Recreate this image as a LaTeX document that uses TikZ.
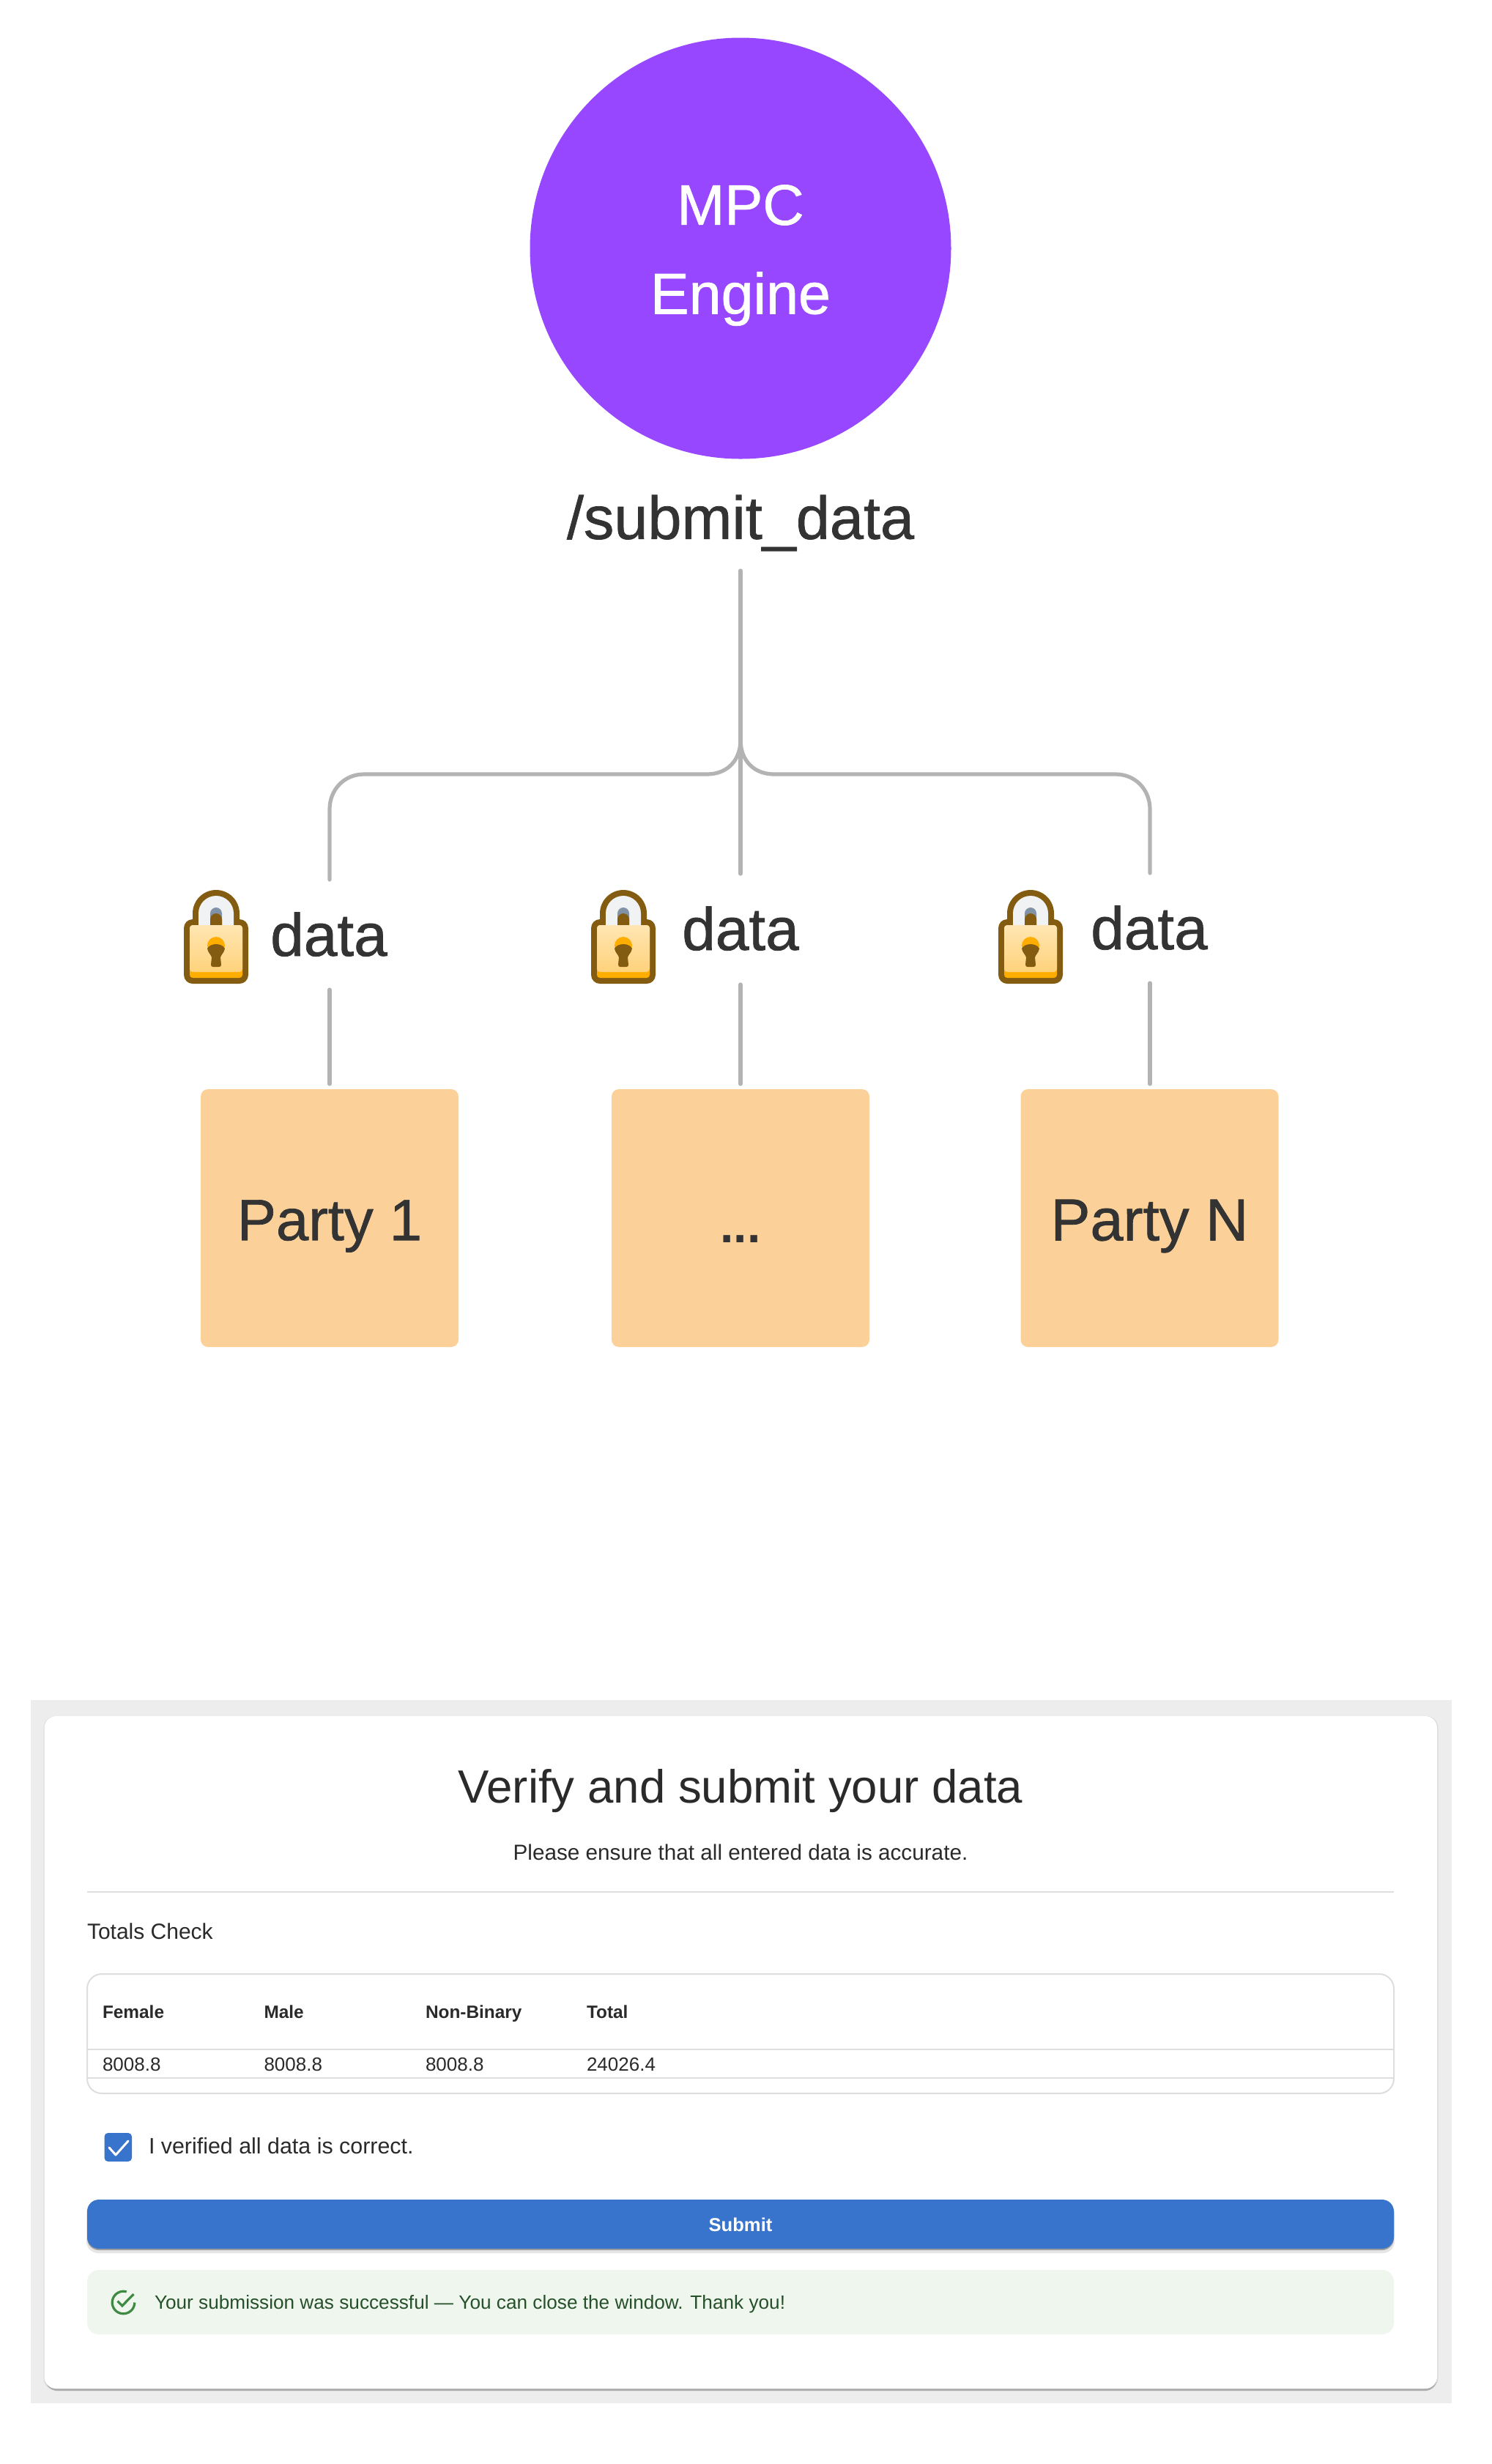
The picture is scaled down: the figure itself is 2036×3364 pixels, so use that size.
\documentclass[tikz,border=0pt]{standalone}
\usepackage{fontspec}
\setmainfont{Liberation Sans}
\newfontfamily\interf[FakeBold=0.9]{Liberation Sans}
\usetikzlibrary{calc}
\definecolor{purp}{HTML}{9747FF}
\definecolor{party}{HTML}{FCD199}
\definecolor{ink}{HTML}{333333}
\definecolor{link}{HTML}{B3B3B3}
\definecolor{lockb}{HTML}{835C12}
\definecolor{locko}{HTML}{FFAE00}
\definecolor{locktop}{HTML}{FFE6B2}
\definecolor{lockbot}{HTML}{FFD27C}
\definecolor{lockw}{HTML}{F0F2F4}
\definecolor{lockg}{HTML}{8093A6}
\definecolor{uiblue}{HTML}{3874CB}
\definecolor{uiink}{HTML}{2A2A2A}
\definecolor{okbg}{HTML}{EEF6EE}
\definecolor{oktx}{HTML}{26502A}
\definecolor{okic}{HTML}{3E8A42}
\newcommand{\fs}[1]{\fontsize{#1}{#1}\selectfont}
\tikzset{
  x=0.5pt,y=-0.5pt,
  txt/.style={inner sep=0pt,outer sep=0pt,text=ink},
  ui/.style={inner sep=0pt,outer sep=0pt,text=uiink,anchor=base west},
  uic/.style={inner sep=0pt,outer sep=0pt,text=uiink,anchor=base},
  partybox/.style={fill=party,draw=none,rounded corners=5pt,minimum width=176pt,minimum height=176pt,inner sep=0pt},
  partytext/.style={txt,font=\interf\fs{39.8}},
  datatext/.style={txt,font=\interf\fs{41},anchor=base},
  wire/.style={draw=link,line width=2.6pt,line cap=round},
  rule/.style={draw=black!13,line width=1pt},
  lockpic/.pic={
    \fill[lockb,rounded corners=6pt] (-44,40) rectangle (44,128);
    \fill[lockb] (-32,66) -- (-32,32) arc[start angle=180,end angle=0,x radius=32,y radius=-32] -- (32,66) -- cycle;
    \fill[lockw] (-24,50) -- (-24,32) arc[start angle=180,end angle=0,x radius=24,y radius=-24] -- (24,50) -- cycle;
    \fill[lockg] (-8,50) -- (-8,32) arc[start angle=180,end angle=0,x radius=8,y radius=-8] -- (8,50) -- cycle;
    \fill[lockb] (-8,50) -- (-8,40) arc[start angle=180,end angle=0,x radius=8,y radius=-8] -- (8,50) -- cycle;
    \fill[locko,rounded corners=2pt] (-36,48) rectangle (36,120);
    \shade[top color=locktop,bottom color=lockbot,rounded corners=2pt] (-36,48) rectangle (36,112);
    \fill[locko] (0,76) circle[radius=12];
    \fill[lockb] (-12,80) .. controls (-8,72) and (8,72) .. (12,80) .. controls (11,86) and (7,88) .. (6,92) -- (7,102) .. controls (7,104) and (6,105) .. (4,105) -- (-4,105) .. controls (-6,105) and (-7,104) .. (-7,102) -- (-6,92) .. controls (-7,88) and (-11,86) .. (-12,80) -- cycle;
  }
}
\begin{document}
\begin{tikzpicture}
\useasboundingbox (0,0) rectangle (2036,3364);
% top diagram
\node[circle,fill=purp,minimum size=287.5pt,inner sep=0pt] (engine) at (1011,339) {};
\node[txt,text=white,font=\interf\fs{39}] (mpc) at (1011,280) {MPC};
\node[txt,text=white,font=\interf\fs{39.5}] (eng) at (1011,408) {Engine};
\node[txt,font=\interf\fs{41.4}] (submit) at (1011,714) {/submit\_data};

\coordinate (top) at (1011,779);
\coordinate (fork) at (1011,1010);
\coordinate (leftend) at (450,1201);
\coordinate (midend) at (1011,1193);
\coordinate (rightend) at (1570,1192);
\coordinate (leftlow) at (450,1351);
\coordinate (midlow) at (1011,1344);
\coordinate (rightlow) at (1570,1342);
\node[partybox] (p1) at (450,1663) {};
\node[partybox] (pm) at (1011,1663) {};
\node[partybox] (pn) at (1569.5,1663) {};
\node[partytext] (p1t) at (450,1674) {Party 1};
\node[partytext,font=\interf\fs{40.5}] (pnt) at (1569.5,1674) {Party N};
\node[txt,font=\bfseries\fs{33},anchor=base] (dots) at (1011,1696) {...};

\draw[wire] (top) -- (midend);
\draw[wire] (fork) .. controls (1011,1038) and (993,1057) .. (965,1057) -- (497,1057) .. controls (470,1057) and (450,1078) .. (450,1105) -- (leftend);
\draw[wire] (fork) .. controls (1011,1038) and (1029,1057) .. (1057,1057) -- (1523,1057) .. controls (1550,1057) and (1570,1078) .. (1570,1105) -- (rightend);
\draw[wire] (leftlow) -- (450,1480);
\draw[wire] (midlow) -- (1011,1480);
\draw[wire] (rightlow) -- (1570,1480);

\pic at (295,1215) {lockpic};
\pic at (851,1215) {lockpic};
\pic at (1407,1215) {lockpic};
\node[datatext] (d1) at (449,1305) {data};
\node[datatext] (d2) at (1011,1297) {data};
\node[datatext] (d3) at (1569,1296) {data};

% bottom panel
\fill[black!7] (42,2321) rectangle (1982,3281);
\fill[black!14,rounded corners=8pt] (59.5,2343) rectangle (1963.5,3263);
\fill[black!32,rounded corners=8pt] (62,2350) rectangle (1961.5,3264);
\fill[white,rounded corners=8pt] (60.5,2343) rectangle (1962,3261);
\node[uic,font=\fs{31.8}] (title) at (1011,2461) {Verify and submit your data};
\node[uic,font=\fs{14.85}] (sub) at (1011,2539) {Please ensure that all entered data is accurate.};
\draw[rule] (119,2583) -- (1903,2583);
\node[ui,font=\fs{15}] (tc) at (119,2647.5) {Totals Check};
\draw[rule,rounded corners=10pt] (119,2695) rectangle (1903,2858);
\draw[rule] (119,2798) -- (1903,2798);
\draw[rule] (119,2837) -- (1903,2837);
\node[ui,font=\fs{12.2}\bfseries] (h1) at (140,2755) {Female};
\node[ui,font=\fs{12.2}\bfseries] (h2) at (360.5,2755) {Male};
\node[ui,font=\fs{12.2}\bfseries] (h3) at (581,2755) {Non-Binary};
\node[ui,font=\fs{12.2}\bfseries] (h4) at (801,2755) {Total};
\node[ui,font=\fs{13}] (c1) at (140,2827) {8008.8};
\node[ui,font=\fs{13}] (c2) at (360.5,2827) {8008.8};
\node[ui,font=\fs{13}] (c3) at (581,2827) {8008.8};
\node[ui,font=\fs{13}] (c4) at (801,2827) {24026.4};
\fill[uiblue,rounded corners=2.5pt] (142.5,2912) rectangle (180,2951);
\draw[white,line width=1.5pt,line cap=round,line join=round] (149,2932) -- (158,2942) -- (175,2923);
\node[ui,font=\fs{15.2}] (chk) at (203,2940) {I verified all data is correct.};
\fill[black!10,rounded corners=8pt] (118,3006) rectangle (1904,3076);
\fill[black!38,rounded corners=8pt] (119,3006) rectangle (1903,3072);
\fill[uiblue,rounded corners=8pt] (119,3003) rectangle (1903,3070);
\node[uic,text=white,font=\fs{12.8}\bfseries] (btn) at (1011,3046) {Submit};
\fill[okbg,rounded corners=8pt] (119,3099) rectangle (1903,3187);
\draw[okic,line width=1.6pt] (172.7,3128.8) arc[start angle=74,end angle=360,x radius=15.3,y radius=-15.3];
\draw[okic,line width=1.6pt] (160.5,3141.5) -- (166.8,3148) -- (182.5,3132);
\node[ui,text=oktx,font=\fs{13.1}] (ok) at (211,3152) {Your submission was successful — You can close the window. Thank you!};
\end{tikzpicture}
\end{document}
